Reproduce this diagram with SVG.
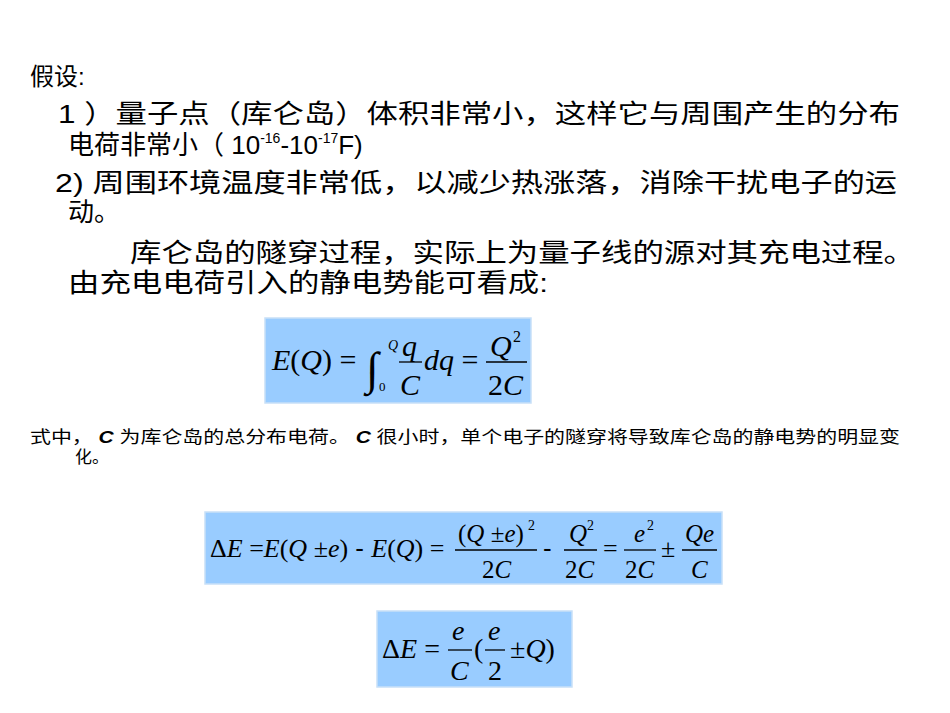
<svg xmlns="http://www.w3.org/2000/svg" width="950" height="713" viewBox="0 0 950 713">
<style>
.t{font-family:"Liberation Sans","Noto Sans CJK SC",sans-serif;fill:#000}
.m{font-family:"Liberation Serif",serif;fill:#000}
.i{font-style:italic}
.box{fill:#99CCFF;stroke:#C8E0F8;stroke-width:1.5}
.ln{stroke:#000;stroke-width:1.3}
</style>
<rect width="950" height="713" fill="#fff"/>
<g id="text">
<text class="t" x="30" y="85" font-size="24">假设:</text>
<text class="t" x="58" y="123" font-size="26" textLength="842" lengthAdjust="spacingAndGlyphs">1 ）量子点（库仑岛）体积非常小，这样它与周围产生的分布</text>
<text class="t" x="68" y="154" font-size="26">电荷非常小（ 10<tspan font-size="14" dy="-11">-16</tspan><tspan dy="11">-10</tspan><tspan font-size="14" dy="-11">-17</tspan><tspan dy="11">F)</tspan></text>
<text class="t" x="55" y="192" font-size="26" textLength="842" lengthAdjust="spacingAndGlyphs">2)  周围环境温度非常低，以减少热涨落，消除干扰电子的运</text>
<text class="t" x="68" y="221" font-size="26">动。</text>
<text class="t" x="130" y="262" font-size="26" textLength="785" lengthAdjust="spacingAndGlyphs">库仑岛的隧穿过程，实际上为量子线的源对其充电过程。</text>
<text class="t" x="68" y="292" font-size="26" textLength="480" lengthAdjust="spacingAndGlyphs">由充电电荷引入的静电势能可看成:</text>
<text class="t" x="30" y="443" font-size="17" textLength="870" lengthAdjust="spacingAndGlyphs">式中，<tspan font-style="italic" font-weight="bold"> C </tspan>为库仑岛的总分布电荷。<tspan font-style="italic" font-weight="bold"> C </tspan>很小时，单个电子的隧穿将导致库仑岛的静电势的明显变</text>
<text class="t" x="75" y="463" font-size="17">化。</text>
</g>
<g id="formula1">
<rect class="box" x="265" y="318" width="266" height="85"/>
<text class="m" x="272" y="370" style="font-size:30px"><tspan class="i">E</tspan>(<tspan class="i">Q</tspan>) =</text>
<text class="m i" x="366" y="384" style="font-size:46px">∫</text>
<text class="m i" x="388" y="350" style="font-size:14px">Q</text>
<text class="m" x="379" y="391" style="font-size:13px">0</text>
<text class="m i" x="402" y="356" style="font-size:30px">q</text>
<line class="ln" x1="399" y1="362" x2="422" y2="362"/>
<text class="m i" x="400" y="395" style="font-size:30px">C</text>
<text class="m" x="424" y="370" style="font-size:30px"><tspan class="i">dq</tspan> =</text>
<text class="m i" x="490" y="356" style="font-size:30px">Q</text>
<text class="m" x="513" y="342" style="font-size:16px">2</text>
<line class="ln" x1="486" y1="362" x2="527" y2="362"/>
<text class="m" x="488" y="395" style="font-size:30px">2<tspan class="i">C</tspan></text>
</g>
<g id="formula2">
<rect class="box" x="205" y="512" width="517" height="72"/>
<text class="m" x="210" y="557" style="font-size:26px">Δ<tspan class="i">E</tspan> =<tspan class="i">E</tspan>(<tspan class="i">Q</tspan> ±<tspan class="i">e</tspan>)<tspan font-family="Liberation Sans"> - </tspan><tspan class="i">E</tspan>(<tspan class="i">Q</tspan>) =</text>
<text class="m" x="458" y="542" style="font-size:25px">(<tspan class="i">Q</tspan> ±<tspan class="i">e</tspan>)</text>
<text class="m" x="528" y="530" style="font-size:14px">2</text>
<line class="ln" x1="455" y1="550" x2="537" y2="550"/>
<text class="m" x="482" y="578" style="font-size:25px">2<tspan class="i">C</tspan></text>
<text class="m" x="543" y="557" style="font-size:26px;font-family:'Liberation Sans'">-</text>
<text class="m i" x="569" y="542" style="font-size:25px">Q</text>
<text class="m" x="587" y="530" style="font-size:14px">2</text>
<line class="ln" x1="564" y1="550" x2="597" y2="550"/>
<text class="m" x="565" y="578" style="font-size:25px">2<tspan class="i">C</tspan></text>
<text class="m" x="603" y="557" style="font-size:26px">=</text>
<text class="m i" x="634" y="542" style="font-size:25px">e</text>
<text class="m" x="647" y="530" style="font-size:14px">2</text>
<line class="ln" x1="624" y1="550" x2="656" y2="550"/>
<text class="m" x="625" y="578" style="font-size:25px">2<tspan class="i">C</tspan></text>
<text class="m" x="661" y="557" style="font-size:26px">±</text>
<text class="m i" x="685" y="542" style="font-size:25px">Qe</text>
<line class="ln" x1="682" y1="550" x2="717" y2="550"/>
<text class="m i" x="691" y="578" style="font-size:25px">C</text>
</g>
<g id="formula3">
<rect class="box" x="377" y="611" width="195" height="76"/>
<text class="m" x="382" y="658" style="font-size:28px">Δ<tspan class="i">E</tspan> =</text>
<text class="m i" x="452" y="640" style="font-size:28px">e</text>
<line class="ln" x1="448" y1="650" x2="472" y2="650"/>
<text class="m i" x="450" y="680" style="font-size:28px">C</text>
<text class="m" x="474" y="658" style="font-size:28px">(</text>
<text class="m i" x="488" y="640" style="font-size:28px">e</text>
<line class="ln" x1="485" y1="650" x2="505" y2="650"/>
<text class="m" x="488" y="680" style="font-size:28px">2</text>
<text class="m" x="510" y="658" style="font-size:28px">±<tspan class="i">Q</tspan>)</text>
</g>
</svg>
